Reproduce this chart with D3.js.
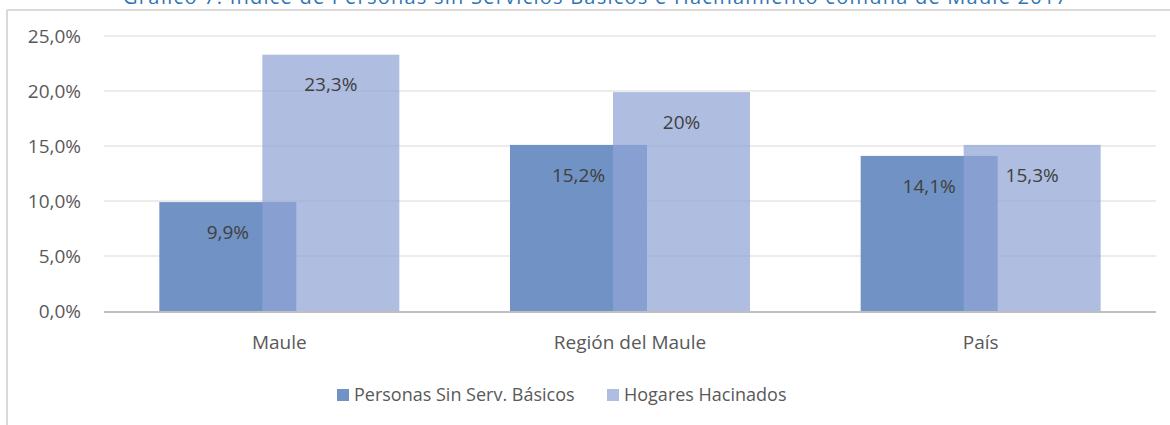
<!DOCTYPE html>
<html>
<head>
<meta charset="utf-8">
<script src="https://cdn.jsdelivr.net/npm/d3@7"></script>
<style>
  body { margin: 0; background: #fff; }
  text { font-family: "Open Sans", sans-serif; }
</style>
</head>
<body>
<svg id="chart" width="1170" height="425"></svg>
<script>
// chart data
var categories = ["Maule", "Región del Maule", "País"];
var seriesNames = ["Personas Sin Serv. Básicos", "Hogares Hacinados"];
var sinServicios = [9.9, 15.1, 14.1];
var hacinados = [23.3, 19.9, 15.1];
var sinServiciosLabels = ["9,9%", "15,2%", "14,1%"];
var hacinadosLabels = ["23,3%", "20%", "15,3%"];
var yTicks = [0, 5, 10, 15, 20, 25];
var title = "Gráfico 7. Índice de Personas sin Servicios Básicos e Hacinamiento comuna de Maule 2017";

var darkColor = "rgb(113,146,196)";
var lightColor = "rgb(144,163,213)";

var svg = d3.select("#chart");

// outer frame (top and left edge visible)
svg.append("line").attr("x1", 7).attr("x2", 1170).attr("y1", 10).attr("y2", 10)
   .style("stroke", "#d9d9d9").style("stroke-width", 2);
svg.append("line").attr("x1", 7).attr("x2", 7).attr("y1", 10).attr("y2", 425)
   .style("stroke", "#d9d9d9").style("stroke-width", 2);

// title, cut off by the top of the picture
svg.append("text")
   .attr("x", 595).attr("y", 4)
   .attr("text-anchor", "middle")
   .attr("textLength", 944)
   .style("font-size", "20px")
   .style("fill", "#2f75b5")
   .text(title);

var plotLeft = 104, plotRight = 1156, plotTop = 36, plotBottom = 311;

var x = d3.scaleBand().domain(categories).range([plotLeft, plotRight]);
var y = d3.scaleLinear().domain([0, 25]).range([plotBottom, plotTop]);

// gridlines
svg.selectAll(".grid")
   .data(yTicks.filter(function(d) { return d > 0; }))
   .enter()
   .append("line")
   .attr("x1", plotLeft).attr("x2", plotRight)
   .attr("y1", function(d) { return y(d); })
   .attr("y2", function(d) { return y(d); })
   .style("stroke", "#ececec")
   .style("stroke-width", 2);

// y axis labels
var yAxis = d3.axisLeft(y).tickValues(yTicks).tickSize(0).tickPadding(0)
   .tickFormat(function(d) { return d3.format(".1f")(d).replace(".", ",") + "%"; });
var gy = svg.append("g").attr("transform", "translate(81,0)").call(yAxis);
gy.select(".domain").remove();
gy.selectAll("text")
   .attr("dy", "0.35em")
   .style("font-size", "19px")
   .style("font-family", "'Open Sans', sans-serif")
   .style("fill", "#595959");

// bars: width ~137, overlapping by 25%
var barW = 137, groupHalf = 120;

svg.selectAll(".dark")
   .data(categories)
   .enter()
   .append("rect")
   .attr("x", function(d) { return x(d) + x.bandwidth() / 2 - groupHalf; })
   .attr("y", function(d, i) { return y(sinServicios[i]); })
   .attr("width", barW)
   .attr("height", function(d, i) { return plotBottom - y(sinServicios[i]); })
   .style("fill", darkColor);

svg.selectAll(".light")
   .data(categories)
   .enter()
   .append("rect")
   .attr("x", function(d) { return x(d) + x.bandwidth() / 2 + groupHalf - barW; })
   .attr("y", function(d, i) { return y(hacinados[i]); })
   .attr("width", barW)
   .attr("height", function(d, i) { return plotBottom - y(hacinados[i]); })
   .style("fill", lightColor)
   .style("fill-opacity", 0.72);

// x axis line
svg.append("line").attr("x1", plotLeft).attr("x2", plotRight).attr("y1", plotBottom + 1).attr("y2", plotBottom + 1)
   .style("stroke", "#bfbfbf").style("stroke-width", 2);

// data labels
svg.selectAll(".lblDark")
   .data(categories)
   .enter()
   .append("text")
   .attr("x", function(d) { return x(d) + x.bandwidth() / 2 - groupHalf + barW / 2; })
   .attr("y", function(d, i) { return y(sinServicios[i]) + 30; })
   .attr("dy", "0.35em")
   .attr("text-anchor", "middle")
   .style("font-size", "19px")
   .style("fill", "#404040")
   .text(function(d, i) { return sinServiciosLabels[i]; });

svg.selectAll(".lblLight")
   .data(categories)
   .enter()
   .append("text")
   .attr("x", function(d) { return x(d) + x.bandwidth() / 2 + groupHalf - barW / 2; })
   .attr("y", function(d, i) { return y(hacinados[i]) + 30; })
   .attr("dy", "0.35em")
   .attr("text-anchor", "middle")
   .style("font-size", "19px")
   .style("fill", "#404040")
   .text(function(d, i) { return hacinadosLabels[i]; });

// category labels
var xAxis = d3.axisBottom(x).tickSize(0).tickPadding(0);
var gx = svg.append("g").attr("transform", "translate(0,342)").call(xAxis);
gx.select(".domain").remove();
gx.selectAll("text")
   .attr("y", 0)
   .attr("dy", "0.35em")
   .style("font-size", "19px")
   .style("font-family", "'Open Sans', sans-serif")
   .style("fill", "#595959");

// legend
var legendX = [337, 607];
var legend = svg.selectAll(".legend")
   .data(seriesNames)
   .enter()
   .append("g")
   .attr("transform", function(d, i) { return "translate(" + legendX[i] + ",395)"; });

legend.append("rect")
   .attr("x", 0).attr("y", -6)
   .attr("width", 12).attr("height", 12)
   .style("fill", function(d, i) { return i == 0 ? darkColor : "rgb(175,189,225)"; });

legend.append("text")
   .attr("x", 17).attr("y", 0)
   .attr("dy", "0.35em")
   .style("font-size", "18px")
   .style("fill", "#595959")
   .text(function(d) { return d; });
</script>
</body>
</html>
